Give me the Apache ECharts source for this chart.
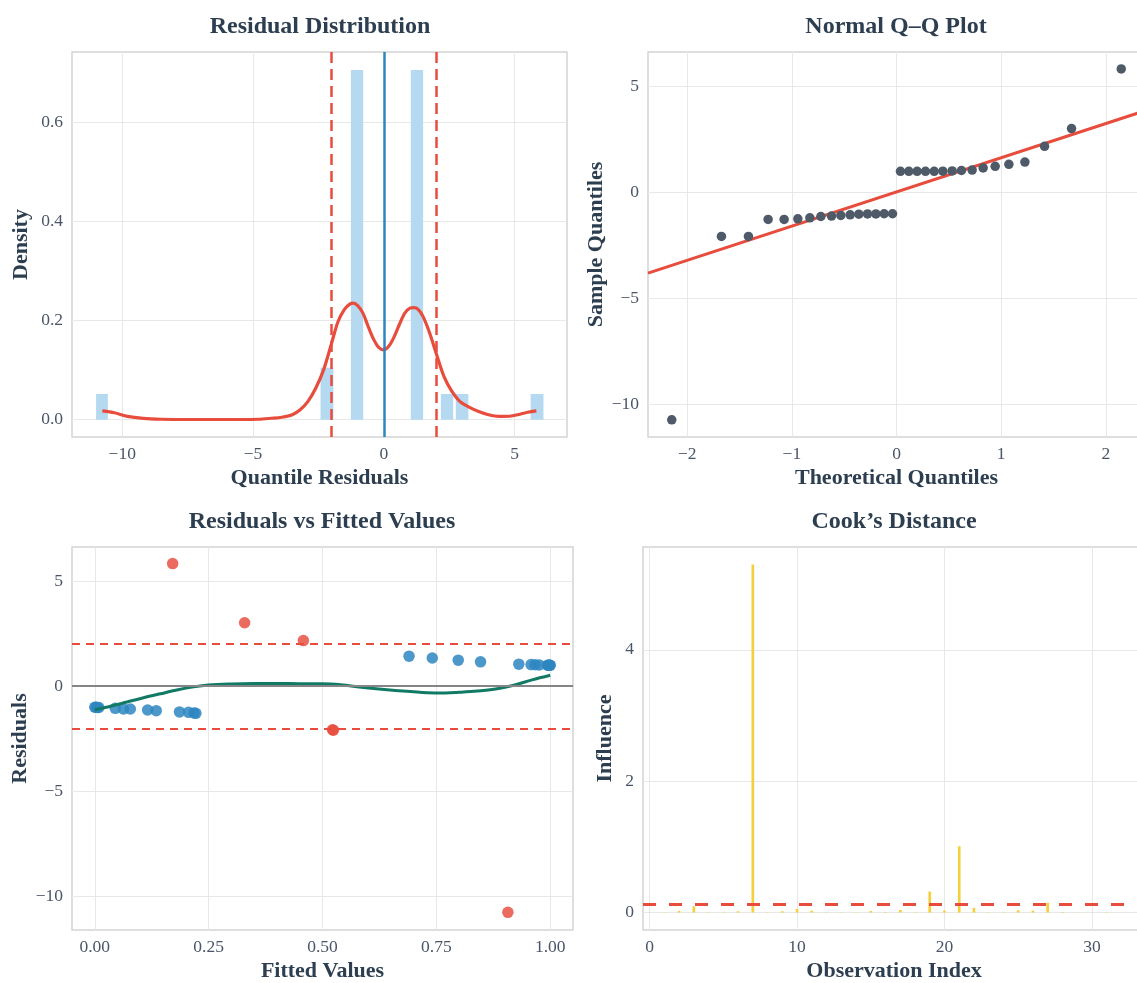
<!DOCTYPE html>
<html><head><meta charset="utf-8">
<script src="https://cdn.jsdelivr.net/npm/echarts@6/dist/echarts.min.js"></script>
<style>html,body{margin:0;padding:0;background:#fff;overflow:hidden}#c{width:1160px;height:983px}</style>
</head><body><div id="c"></div>
<script>
// ---------- Panel 1: residual distribution ----------
const histLeft    = [-11.00, -2.42, -1.26, 1.03, 2.18, 2.75, 5.61];
const histRight   = [-10.55, -1.93, -0.79, 1.50, 2.65, 3.23, 6.10];
const histDensity = [0.052, 0.105, 0.705, 0.705, 0.052, 0.052, 0.052];
const kdeX = [-10.76,-10.3,-9.8,-9.2,-8.5,-7.5,-6.5,-5.5,-4.8,-4.3,-3.9,-3.5,-3.2,-2.9,-2.6,-2.3,-2.0,-1.75,-1.5,-1.3,-1.17,-1.0,-0.8,-0.6,-0.4,-0.2,0,0.2,0.4,0.6,0.8,1.0,1.15,1.3,1.5,1.75,2.0,2.3,2.6,2.9,3.2,3.6,4.0,4.4,4.8,5.2,5.5,5.83];
const kdeY = [0.018,0.014,0.0067,0.0027,0.001,0.0005,0.0005,0.0005,0.001,0.003,0.005,0.010,0.020,0.037,0.064,0.101,0.154,0.198,0.223,0.233,0.235,0.230,0.215,0.188,0.163,0.146,0.141,0.149,0.168,0.193,0.215,0.225,0.226,0.223,0.208,0.175,0.134,0.087,0.057,0.037,0.027,0.017,0.010,0.0067,0.007,0.011,0.015,0.018];
const distRefLines = [-2, 2];
const distTicksX = [-10, -5, 0, 5];
const distTicksY = [0.0, 0.2, 0.4, 0.6];

// ---------- Panel 2: normal Q-Q ----------
const qqTheoretical = [-2.148,-1.673,-1.415,-1.227,-1.074,-0.943,-0.828,-0.723,-0.621,-0.532,-0.443,-0.36,-0.277,-0.197,-0.118,-0.038,0.038,0.118,0.197,0.277,0.36,0.443,0.532,0.621,0.723,0.828,0.943,1.074,1.227,1.415,1.673,2.148];
const qqSample = [-10.72,-2.07,-2.07,-1.27,-1.27,-1.24,-1.19,-1.13,-1.11,-1.08,-1.05,-1.02,-1.01,-1.01,-1.00,-1.00,1.00,1.00,1.00,1.00,1.00,1.01,1.02,1.04,1.06,1.16,1.24,1.33,1.44,2.18,3.02,5.83];
const qqLineX = [-2.375, 2.375];
const qqLineY = [-3.80, 3.86];
const qqTicksX = [-2, -1, 0, 1, 2];
const qqTicksY = [-10, -5, 0, 5];

// ---------- Panel 3: residuals vs fitted ----------
const fittedBlue = [0.000,0.003,0.006,0.009,0.045,0.063,0.078,0.116,0.135,0.186,0.206,0.218,0.222,0.690,0.741,0.798,0.847,0.931,0.958,0.967,0.976,0.994,0.996,0.998,0.999,1.000];
const residBlue  = [-1.00,-1.00,-1.01,-1.01,-1.05,-1.08,-1.08,-1.13,-1.16,-1.22,-1.24,-1.27,-1.29,1.43,1.34,1.24,1.16,1.05,1.03,1.02,1.01,1.00,1.00,1.00,1.00,1.00];
const fittedRed  = [0.171,0.329,0.458,0.522,0.524,0.907];
const residRed   = [5.83,3.02,2.17,-2.07,-2.09,-10.75];
const lowessX = [0.0,0.035,0.071,0.107,0.144,0.18,0.217,0.25,0.3,0.35,0.4,0.45,0.5,0.54,0.59,0.66,0.73,0.77,0.8,0.84,0.88,0.92,0.96,1.0];
const lowessY = [-1.12,-0.95,-0.75,-0.55,-0.36,-0.18,-0.03,0.06,0.11,0.13,0.13,0.12,0.12,0.07,-0.06,-0.2,-0.31,-0.32,-0.29,-0.23,-0.13,0.05,0.3,0.52];
const residBand = [-2, 2];
const rvfTicksX = [0, 0.25, 0.5, 0.75, 1.0];
const rvfTicksY = [-10, -5, 0, 5];

// ---------- Panel 4: Cook's distance ----------
const obsIndex = [0,1,2,3,4,5,6,7,8,9,10,11,12,13,14,15,16,17,18,19,20,21,22,23,24,25,26,27,28,29,30,31];
const cooksD = [0.003,0.005,0.025,0.095,0.005,0.005,0.02,5.30,0.005,0.02,0.055,0.03,0.005,0.005,0.005,0.025,0.01,0.04,0.005,0.32,0.03,1.01,0.07,0.005,0.005,0.035,0.03,0.15,0.01,0.004,0.003,0.005];
const cooksThreshold = 0.125;
const cookTicksX = [0, 10, 20, 30];
const cookTicksY = [0, 2, 4];

// ---------- styling ----------
const SERIF = 'Liberation Serif';
const TITLE_C = '#2c3e50', TICK_C = '#4a5568', GRID_C = '#e8e8e8';
const minus = v => String(v).replace('-', '\u2212');

function mkAxis(gi, min, max, ticks, fmt, name, nameGap, isY) {
  return {
    type: 'value', gridIndex: gi, min: min, max: max,
    name: name, nameLocation: 'middle', nameGap: nameGap,
    nameTextStyle: {fontFamily: SERIF, fontWeight: 'bold', fontSize: 22, color: TITLE_C},
    axisLine: {show: false},
    axisTick: {show: false, customValues: ticks},
    axisLabel: {customValues: ticks, formatter: fmt, color: TICK_C, fontFamily: SERIF, fontSize: 17.5, margin: isY ? 9 : 8},
    splitLine: {show: true, lineStyle: {color: GRID_C, width: 1}}
  };
}
const f1 = v => minus(v.toFixed(1));
const f0 = v => minus(Math.round(v));
const f2 = v => v.toFixed(2);

const grids = [
  {left: 72, top: 52, width: 495, height: 385},
  {left: 648, top: 52, width: 497, height: 385},
  {left: 72, top: 547, width: 501, height: 386},
  {left: 643, top: 547, width: 502, height: 386}
].map(g => Object.assign(g, {show: true, borderColor: '#d4d4d4', borderWidth: 1.5, backgroundColor: 'transparent', containLabel: false}));

const titleStyle = {fontFamily: SERIF, fontWeight: 'bold', fontSize: 24, color: TITLE_C};
const titles = [
  {text: 'Residual Distribution', left: 320, top: 15},
  {text: 'Normal Q\u2013Q Plot', left: 896, top: 15},
  {text: 'Residuals vs Fitted Values', left: 322, top: 510},
  {text: 'Cook\u2019s Distance', left: 894, top: 510}
].map(t => Object.assign(t, {textAlign: 'center', padding: 0, textStyle: titleStyle}));

const histData = histLeft.map((l, i) => [l, histRight[i], histDensity[i]]);
const kdeData = kdeX.map((x, i) => [x, kdeY[i]]);
const qqData = qqTheoretical.map((x, i) => [x, qqSample[i]]);
const qqLine = qqLineX.map((x, i) => [x, qqLineY[i]]);
const blueData = fittedBlue.map((x, i) => [x, residBlue[i]]);
const redData = fittedRed.map((x, i) => [x, residRed[i]]);
const lowessData = lowessX.map((x, i) => [x, lowessY[i]]);
const cookData = obsIndex.map((x, i) => [x, cooksD[i]]);

const RED = '#e74c3c';
const option = {
  animation: false,
  backgroundColor: '#ffffff',
  title: titles,
  grid: grids,
  xAxis: [
    mkAxis(0, -11.92, 7.0, distTicksX, f0, 'Quantile Residuals', 30, false),
    mkAxis(1, -2.375, 2.375, qqTicksX, f0, 'Theoretical Quantiles', 30, false),
    mkAxis(2, -0.05, 1.05, rvfTicksX, f2, 'Fitted Values', 30, false),
    mkAxis(3, -0.45, 33.6, cookTicksX, f0, 'Observation Index', 30, false)
  ],
  yAxis: [
    mkAxis(0, -0.0348, 0.7415, distTicksY, f1, 'Density', 40, true),
    mkAxis(1, -11.53, 6.63, qqTicksY, f0, 'Sample Quantiles', 40, true),
    mkAxis(2, -11.59, 6.62, rvfTicksY, f0, 'Residuals', 40, true),
    mkAxis(3, -0.265, 5.565, cookTicksY, f0, 'Influence', 27, true)
  ],
  series: [
    {
      type: 'custom', xAxisIndex: 0, yAxisIndex: 0, data: histData,
      encode: {x: [0, 1], y: 2},
      renderItem: function (params, api) {
        const p0 = api.coord([api.value(0), api.value(2)]);
        const p1 = api.coord([api.value(1), 0]);
        return {type: 'rect', shape: {x: p0[0], y: p0[1], width: p1[0] - p0[0], height: p1[1] - p0[1]},
                style: {fill: '#b5d9f1'}};
      }
    },
    {
      type: 'line', xAxisIndex: 0, yAxisIndex: 0, data: kdeData, smooth: 0.3,
      showSymbol: false, lineStyle: {color: RED, width: 3.2}, z: 3,
      markLine: {
        silent: true, symbol: ['none', 'none'], label: {show: false},
        data: [
          {xAxis: distRefLines[0], lineStyle: {color: RED, width: 2.5, type: [11, 6]}},
          {xAxis: distRefLines[1], lineStyle: {color: RED, width: 2.5, type: [11, 6]}},
          {xAxis: 0, lineStyle: {color: '#2e86c1', width: 2.5, type: 'solid'}}
        ]
      }
    },
    {
      type: 'line', xAxisIndex: 1, yAxisIndex: 1, data: qqLine, showSymbol: false,
      lineStyle: {color: RED, width: 3}, z: 2
    },
    {
      type: 'scatter', xAxisIndex: 1, yAxisIndex: 1, data: qqData, symbolSize: 9.5,
      itemStyle: {color: '#4f5a69', opacity: 1}, z: 3
    },
    {
      type: 'scatter', xAxisIndex: 2, yAxisIndex: 2, data: blueData, symbolSize: 11.5,
      itemStyle: {color: '#2e86c1', opacity: 0.85}, z: 3,
      markLine: {
        silent: true, symbol: ['none', 'none'], label: {show: false},
        data: [
          {yAxis: 0, lineStyle: {color: '#858585', width: 2, type: 'solid'}},
          {yAxis: residBand[0], lineStyle: {color: RED, width: 2, type: [8, 6]}},
          {yAxis: residBand[1], lineStyle: {color: RED, width: 2, type: [8, 6]}}
        ]
      }
    },
    {
      type: 'scatter', xAxisIndex: 2, yAxisIndex: 2, data: redData, symbolSize: 11.5,
      itemStyle: {color: '#e74c3c', opacity: 0.82}, z: 3
    },
    {
      type: 'line', xAxisIndex: 2, yAxisIndex: 2, data: lowessData, smooth: 0.35, showSymbol: false,
      lineStyle: {color: '#117a65', width: 3}, z: 4
    },
    {
      type: 'bar', xAxisIndex: 3, yAxisIndex: 3, data: cookData, barWidth: 2.7,
      itemStyle: {color: '#f4d03f'},
      markLine: {
        silent: true, symbol: ['none', 'none'], label: {show: false},
        data: [{yAxis: cooksThreshold, lineStyle: {color: RED, width: 3, type: [13, 13]}}]
      }
    }
  ]
};
const chart = echarts.init(document.getElementById('c'), null, {renderer: 'canvas'});
chart.setOption(option);
</script>
</body></html>
